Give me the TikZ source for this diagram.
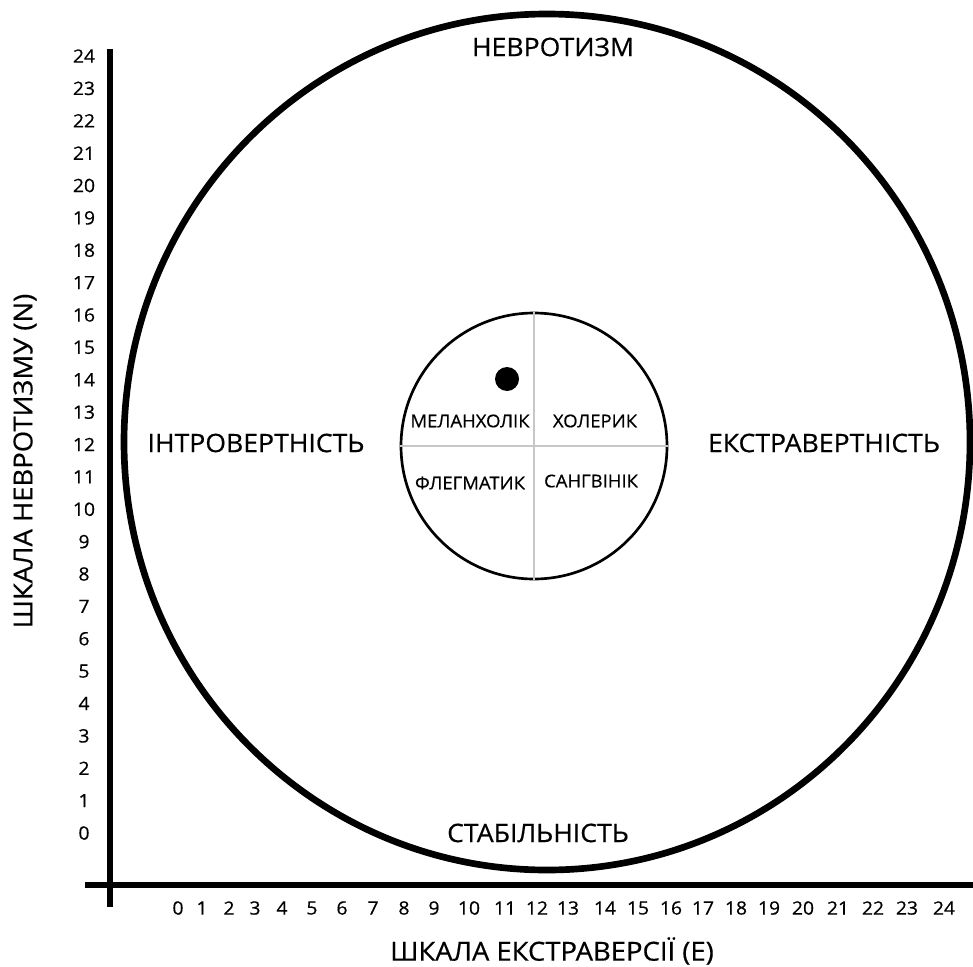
\documentclass[tikz,border=0pt]{standalone}
\usepackage{fontspec}
\setmainfont[FakeStretch=1.05, FakeBold=0.5]{Open Sans}
\usetikzlibrary{positioning}

\begin{document}
\begin{tikzpicture}[x=0.75pt, y=-0.75pt,
      every node/.append style={inner sep=0pt, font=\fontsize{13.8}{14}\selectfont}]
    \tikzstyle{axis} = [line width=5.2pt]
    \tikzstyle{pole} = [font=\fontsize{19}{20}\selectfont]
    \tikzstyle{axistitle} = [font=\fontsize{19.6}{20}\selectfont]
    \tikzstyle{temper} = [font=\fontsize{13.2}{14}\selectfont]
    \useasboundingbox (0,0) rectangle (973,966);
    % axes
    \coordinate (ytop) at (110,49);
    \coordinate (ybot) at (110,907);
    \coordinate (xleft) at (85,885);
    \coordinate (xright) at (975,885);
    \draw[axis] (ytop) -- (ybot);
    \draw[axis] (xleft) -- (xright);
    \foreach \n in {0,...,24}
      \node (ny\n) at (84,833-32.375*\n) {\n};
    \foreach \n/\x in {0/178,1/202,2/229,3/255,4/282,5/312,6/342,7/373,8/404,
        9/434,10/469,11/505,12/537,13/568,14/605,15/638,16/671,17/703,18/736,
        19/769,20/803,21/838,22/873,23/907,24/944}
      \node (ex\n) at (\x,908) {\n};
    \node[axistitle] (xtitle) at (552,951) {ШКАЛА ЕКСТРАВЕРСІЇ (E)};
    \node[axistitle, rotate=90] (ytitle) at (25,461) {ШКАЛА НЕВРОТИЗМУ (N)};
    % outer circle
    \draw[line width=5pt] (547,442) ellipse [x radius=423, y radius=428];
    \node[pole] (neuro) at (553,47) {НЕВРОТИЗМ};
    \node[pole] (stable) at (538,833) {СТАБІЛЬНІСТЬ};
    \node[pole] (intro) at (256,443) {ІНТРОВЕРТНІСТЬ};
    \node[pole] (extra) at (824,443) {ЕКСТРАВЕРТНІСТЬ};
    % inner circle
    \node[circle, draw, line width=2pt, minimum size=199.5pt] (core) at (534,446) {};
    \draw[black!22, line width=1.1pt] (core.north) -- (core.south);
    \draw[black!22, line width=1.1pt] (core.west) -- (core.east);
    \node[temper] (melan) at (470,421) {МЕЛАНХОЛІК};
    \node[temper] (chol) at (595,421) {ХОЛЕРИК};
    \node[temper] (phleg) at (470,483) {ФЛЕГМАТИК};
    \node[temper] (sang) at (591,481) {САНГВІНІК};
    \node[circle, fill=black, minimum size=18pt] (score) at (507,379) {};
\end{tikzpicture}
\end{document}
